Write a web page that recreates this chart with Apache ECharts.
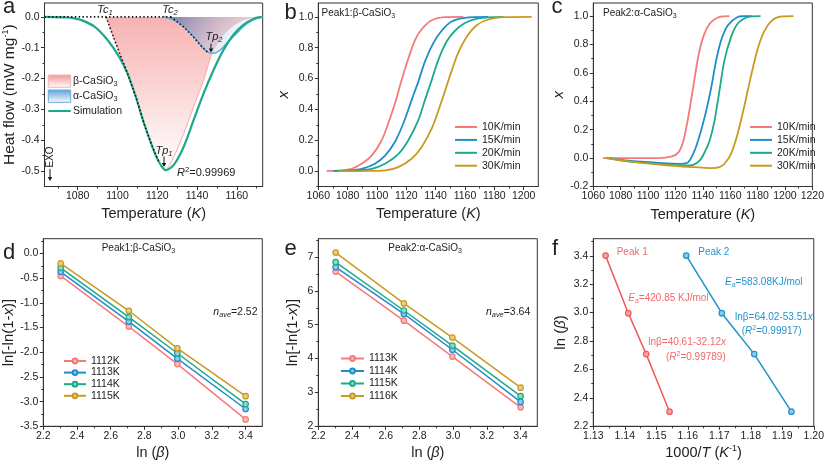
<!DOCTYPE html>
<html><head><meta charset="utf-8">
<script src="https://cdn.jsdelivr.net/npm/echarts@6.0.0/dist/echarts.min.js"></script>
<style>html,body{margin:0;padding:0;background:#fff}#c{width:827px;height:466px}</style>
</head><body><div id="c"></div>
<script>
// ---------------- DATA ----------------
// Panel a : DSC heat flow (T in K, heat flow in mW/mg)
const aSimulation = [[1063.3,0],[1075,-0.002],[1078.3,-0.005],[1081.7,-0.01],[1088.3,-0.031],[1095,-0.075],[1100.8,-0.129],[1105,-0.183],[1109.2,-0.259],[1113.3,-0.345],[1117.5,-0.421],[1120.8,-0.47],[1124.2,-0.497],[1128.3,-0.48],[1133.3,-0.421],[1138.3,-0.334],[1143.3,-0.248],[1148.3,-0.172],[1153.3,-0.107],[1158.3,-0.058],[1163.3,-0.026],[1168.3,-0.0065],[1172.5,0]];
const aBeta = [[1094.2,0],[1101.7,-0.129],[1105,-0.183],[1109.2,-0.259],[1113.3,-0.345],[1117.5,-0.421],[1120.8,-0.47],[1124.2,-0.494],[1128.3,-0.453],[1133.3,-0.378],[1138.3,-0.291],[1143.3,-0.205],[1147.5,-0.118],[1151,-0.075],[1155,-0.045],[1159,-0.024],[1163,-0.01],[1167,-0.003],[1172,0]];
const aAlpha = [[1123.3,0],[1128.3,-0.01],[1133.3,-0.031],[1138.3,-0.064],[1142.5,-0.096],[1145.8,-0.116],[1148.3,-0.118],[1151.7,-0.107],[1155,-0.085],[1159.2,-0.058],[1163.3,-0.031],[1167.5,-0.012],[1171.7,-0.002],[1173,0]];
const aDotBase = [[1063.3,0],[1127,0]];
const aDotTc1 = [[1094.2,0],[1101.7,-0.129],[1105,-0.183],[1109.2,-0.259],[1113.3,-0.345],[1117.5,-0.421],[1120.8,-0.47]];
const aDotTc2 = [[1126.7,0],[1130,-0.016],[1133.3,-0.033],[1138.3,-0.066],[1142.5,-0.098],[1145.8,-0.117]];

// Panel b : Peak1 conversion x vs T
const bNames = ['10K/min','15K/min','20K/min','30K/min'];
const b10 = [[1065.7,0],[1075,0.004],[1082.7,0.015],[1089.5,0.048],[1096.4,0.1],[1103.2,0.2],[1107.7,0.31],[1112.3,0.44],[1116.8,0.59],[1121.4,0.73],[1125.9,0.85],[1130.5,0.92],[1137.3,0.978],[1146.4,0.998],[1158.9,1.0]];
const b15 = [[1070.2,0],[1080,0.004],[1089.5,0.015],[1098.6,0.048],[1105.5,0.1],[1112.3,0.19],[1118,0.31],[1123.6,0.46],[1128.2,0.58],[1132.7,0.71],[1138.4,0.83],[1144.1,0.91],[1150.9,0.97],[1160,0.994],[1175.9,1.0]];
const b20 = [[1071.4,0],[1085,0.004],[1096.4,0.015],[1105.5,0.048],[1114.5,0.11],[1121.4,0.2],[1128.2,0.33],[1132.7,0.46],[1137.3,0.59],[1141.8,0.72],[1147.5,0.84],[1153.2,0.91],[1160,0.96],[1169.1,0.99],[1186.1,1.0]];
const b30 = [[1073.6,0],[1095,0.001],[1105.5,0.004],[1114.5,0.026],[1123.6,0.08],[1130.5,0.156],[1137.3,0.275],[1141.8,0.39],[1146.4,0.52],[1150.9,0.65],[1155.5,0.77],[1161.1,0.87],[1168,0.946],[1175.9,0.983],[1187.3,0.998],[1205.5,1.0]];

// Panel c : Peak2 conversion x vs T
const c10 = [[1067,0],[1107.8,0],[1117.4,0.012],[1122.2,0.04],[1125.8,0.12],[1129.4,0.29],[1133,0.5],[1136.6,0.71],[1140.2,0.85],[1145,0.946],[1151,0.99],[1155,0.998],[1159.4,1.0]];
const c15 = [[1069.4,0],[1083.8,-0.016],[1107.8,-0.033],[1124.6,-0.04],[1129.4,-0.028],[1133,0.03],[1136.6,0.124],[1141.4,0.29],[1146.2,0.5],[1149.8,0.69],[1153.4,0.83],[1158.2,0.934],[1165.4,0.993],[1170,0.999],[1176.2,1.0]];
const c20 = [[1071.8,0],[1083.8,-0.021],[1107.8,-0.04],[1127,-0.052],[1133,-0.047],[1137.8,-0.016],[1141.4,0.042],[1145,0.124],[1148.6,0.265],[1152.2,0.477],[1155.8,0.688],[1160.6,0.852],[1165.4,0.946],[1171.4,0.988],[1176,0.998],[1182.2,1.0]];
const c30 = [[1069.4,0],[1083.8,-0.021],[1107.8,-0.045],[1131.8,-0.063],[1146.2,-0.07],[1152.2,-0.063],[1155.8,-0.04],[1160.6,0.03],[1165.4,0.17],[1170.2,0.36],[1175,0.57],[1179.8,0.76],[1184.6,0.887],[1190.6,0.97],[1197.8,0.998],[1206.2,1.0]];

// Panels d, e : ln[-ln(1-x)] vs ln(beta)
const lnBeta = [2.303, 2.708, 2.996, 3.401];
const dNames = ['1112K','1113K','1114K','1115K'];
const d1112 = [-0.455,-1.48,-2.24,-3.36];
const d1113 = [-0.37,-1.38,-2.13,-3.15];
const d1114 = [-0.29,-1.29,-2.02,-3.05];
const d1115 = [-0.2,-1.16,-1.92,-2.89];
const eNames = ['1113K','1114K','1115K','1116K'];
const e1113 = [6.57,5.12,4.06,2.56];
const e1114 = [6.70,5.32,4.26,2.72];
const e1115 = [6.85,5.42,4.38,2.89];
const e1116 = [7.13,5.63,4.62,3.14];

// Panel f : ln(beta) vs 1000/T
const fPeak1X = [1.1339,1.1411,1.1468,1.1542];
const fPeak2X = [1.1595,1.1708,1.1811,1.1929];
const fLnBeta = [3.401,2.996,2.708,2.303];

// Tick values
const aXTicks = [1080,1100,1120,1140,1160], aXMinor = [1070,1090,1110,1130,1150,1170];
const aYTicks = [0,-0.1,-0.2,-0.3,-0.4,-0.5], aYMinor = [-0.05,-0.15,-0.25,-0.35,-0.45];
const bXTicks = [1060,1080,1100,1120,1140,1160,1180,1200], bXMinor = [1070,1090,1110,1130,1150,1170,1190];
const bYTicks = [0,0.2,0.4,0.6,0.8,1.0], bYMinor = [-0.1,0.1,0.3,0.5,0.7,0.9];
const cXTicks = [1060,1080,1100,1120,1140,1160,1180,1200,1220], cXMinor = [1070,1090,1110,1130,1150,1170,1190,1210];
const cYTicks = [-0.2,0,0.2,0.4,0.6,0.8,1.0], cYMinor = [-0.1,0.1,0.3,0.5,0.7,0.9];
const deXTicks = [2.2,2.4,2.6,2.8,3.0,3.2,3.4], deXMinor = [2.3,2.5,2.7,2.9,3.1,3.3];
const dYTicks = [0,-0.5,-1,-1.5,-2,-2.5,-3,-3.5], dYMinor = [0.25,-0.25,-0.75,-1.25,-1.75,-2.25,-2.75,-3.25];
const eYTicks = [2,3,4,5,6,7], eYMinor = [2.5,3.5,4.5,5.5,6.5,7.5];
const fXTicks = [1.13,1.14,1.15,1.16,1.17,1.18,1.19,1.20], fXMinor = [1.135,1.145,1.155,1.165,1.175,1.185,1.195];
const fYTicks = [2.2,2.4,2.6,2.8,3.0,3.2,3.4], fYMinor = [2.3,2.5,2.7,2.9,3.1,3.3,3.5];

// ---------------- STYLE ----------------
const F = '"Liberation Sans", Arial, Helvetica, sans-serif';
const TXT = '#222', AX = '#333';
const RED = '#F47A7A', BLUE = '#1F8CCB', TEAL = '#1BAA8B', GOLD = '#C99A20';
const LRED = '#FBB8B8', LBLUE = '#92CBEC', LTEAL = '#8FDAC5', LGOLD = '#EACD84';
const NAMEFS = 14.5;

const gridDefs = [
  {left:43.3, top:3, width:219.4, height:183.5},
  {left:318.3, top:3, width:220, height:183.5},
  {left:593.3, top:3, width:223, height:183.5},
  {left:43.3, top:238.7, width:219, height:187.6},
  {left:318.3, top:238.7, width:219, height:187.6},
  {left:593.3, top:238.7, width:223, height:187.6}
].map(g => Object.assign({show:true, borderColor:AX, borderWidth:1, backgroundColor:'rgba(0,0,0,0)'}, g));

const nameRich = {
  i:{fontStyle:'italic', fontSize:NAMEFS, fontFamily:F, color:TXT},
  sup:{fontSize:9, fontFamily:F, color:TXT, padding:[0,0,8,0]}
};
function mainAxis(dim, g, min, max, ticks, dec, name, gap, italicName, nfs) {
  const fs = nfs || NAMEFS;
  return {
    type:'value', gridIndex:g, min:min, max:max, position: dim==='x' ? 'bottom' : 'left',
    axisLine:{show:true, onZero:false, lineStyle:{color:AX, width:1}},
    axisTick:{show:true, inside:false, length:3.5, customValues:ticks, lineStyle:{color:AX, width:1}},
    axisLabel:{show:true, customValues:ticks, formatter:(v)=>Number(v).toFixed(dec), color:TXT, fontSize:10.5, fontFamily:F, margin: dim==='x' ? 4 : 5},
    splitLine:{show:false}, minorTick:{show:false},
    name:name, nameLocation:'middle', nameGap:gap,
    nameTextStyle:{fontSize:fs, fontFamily:F, color:TXT, fontStyle: italicName ? 'italic' : 'normal',
      rich:{i:{fontStyle:'italic', fontSize:fs, fontFamily:F, color:TXT}, sup:nameRich.sup}}
  };
}
function minorAxis(dim, g, min, max, ticks) {
  return {
    type:'value', gridIndex:g, min:min, max:max, position: dim==='x' ? 'bottom' : 'left',
    axisLine:{show:false, onZero:false}, axisLabel:{show:false},
    axisTick:{show:true, inside:false, length:2, customValues:ticks, lineStyle:{color:AX, width:1}},
    splitLine:{show:false}
  };
}
const xMain = [
  mainAxis('x',0,1063.3,1173,aXTicks,0,'Temperature ({i|K})',20),
  mainAxis('x',1,1060,1210,bXTicks,0,'Temperature ({i|K})',20),
  mainAxis('x',2,1060,1220,cXTicks,0,'Temperature ({i|K})',21),
  mainAxis('x',3,2.2,3.5,deXTicks,1,'ln ({i|β})',19),
  mainAxis('x',4,2.2,3.5,deXTicks,1,'ln ({i|β})',19),
  mainAxis('x',5,1.13,1.20,fXTicks,2,'1000/{i|T} ({i|K}{sup|-1})',18)
];
const xMinor = [
  minorAxis('x',0,1063.3,1173,aXMinor), minorAxis('x',1,1060,1210,bXMinor), minorAxis('x',2,1060,1220,cXMinor),
  minorAxis('x',3,2.2,3.5,deXMinor), minorAxis('x',4,2.2,3.5,deXMinor), minorAxis('x',5,1.13,1.20,fXMinor)
];
const yMain = [
  mainAxis('y',0,-0.55,0.045,aYTicks,1,'Heat flow (mW mg{sup|-1})',26,false,15.5),
  mainAxis('y',1,-0.1,1.09,bYTicks,1,'x',27,true,15),
  mainAxis('y',2,-0.2,1.092,cYTicks,1,'x',26,true,15),
  mainAxis('y',3,-3.5,0.3,dYTicks,1,'ln[-ln(1-{i|x})]',25,false,15),
  mainAxis('y',4,2,7.54,eYTicks,0,'ln[-ln(1-{i|x})]',18,false,15),
  mainAxis('y',5,2.2,3.52,fYTicks,1,'ln ({i|β})',25,false,15)
];
const yMinor = [
  minorAxis('y',0,-0.55,0.045,aYMinor), minorAxis('y',1,-0.1,1.09,bYMinor), minorAxis('y',2,-0.2,1.092,cYMinor),
  minorAxis('y',3,-3.5,0.3,dYMinor), minorAxis('y',4,2,7.54,eYMinor), minorAxis('y',5,2.2,3.52,fYMinor)
];

const LG = echarts.graphic.LinearGradient;
const series = [];
function ln(g, name, data, color, width, extra) {
  series.push(Object.assign({
    type:'line', name:name, xAxisIndex:g, yAxisIndex:g, data:data,
    symbol:'none', showSymbol:false, smooth:0.3, silent:true,
    lineStyle:{color:color, width:width}, itemStyle:{color:color}
  }, extra || {}));
}
// panel a
ln(0,'beta',aBeta,'#F6A8A8',1,{z:1, areaStyle:{origin:'auto', color:new LG(0,0,0,1,[{offset:0,color:'#F39090'},{offset:1,color:'#FFFFFF'}])}});
ln(0,'alpha',aAlpha,'#5AAEE0',1.6,{z:2, areaStyle:{origin:'auto', color:new LG(0,0,0.6,1,[{offset:0,color:'rgba(45,85,155,0.88)'},{offset:1,color:'rgba(215,232,248,0.6)'}])}});
[aDotBase,aDotTc1,aDotTc2].forEach(d => ln(0,'dot',d,'#111',1.6,{z:5, smooth:false, lineStyle:{color:'#111', width:1.6, type:[1.4,2.4]}}));
ln(0,'Simulation',aSimulation,'#1EA88A',2.2,{z:4});
// panel b, c
const bcCols = [RED,BLUE,TEAL,GOLD];
[b10,b15,b20,b30].forEach((d,i)=>ln(1,bNames[i],d,bcCols[i],1.8));
[c10,c15,c20,c30].forEach((d,i)=>ln(2,bNames[i]+' ',d,bcCols[i],1.8));
// panel d, e
const lights = [LRED,LBLUE,LTEAL,LGOLD];
function pts(xs, ys){ return xs.map((x,i)=>[x, ys[i]]); }
function mk(g, name, xs, ys, col, lcol){
  series.push({type:'line', name:name, xAxisIndex:g, yAxisIndex:g, data:pts(xs,ys),
    symbol:'circle', symbolSize:5.5, lineStyle:{color:col, width:1.5},
    itemStyle:{color:lcol, borderColor:col, borderWidth:1.2}, silent:true});
}
[d1112,d1113,d1114,d1115].forEach((ys,i)=>mk(3,dNames[i],lnBeta,ys,bcCols[i],lights[i]));
[e1113,e1114,e1115,e1116].forEach((ys,i)=>mk(4,eNames[i]+' ',lnBeta,ys,bcCols[i],lights[i]));
mk(5,'Peak 1',fPeak1X,fLnBeta,'#F05A5A','#F8A5A5');
mk(5,'Peak 2',fPeak2X,fLnBeta,'#1E93C6','#8ECBEA');

function legend(left, top, names, gap, w, h, icon) {
  const o = {show:true, orient:'vertical', left:left, top:top, data:names, itemWidth:w, itemHeight:h, itemGap:gap,
    formatter:(n)=>n.trim(), textStyle:{color:TXT, fontSize:10.5, fontFamily:F}, padding:0, selectedMode:false};
  if (icon) o.icon = icon;
  return o;
}
const legends = [
  legend(455,121.5,bNames,1.9,22,2,'rect'),
  legend(750,121.5,bNames.map(n=>n+' '),1.9,22,2,'rect'),
  legend(63,355.5,dNames,0.6,22,6),
  legend(340,353,eNames.map(n=>n+' '),1.5,23,6)
];

// ---------------- ANNOTATIONS ----------------
const G = [];
function txt(x, y, text, o) {
  o = o || {};
  const fs = o.fs || 10, col = o.color || TXT;
  G.push({type:'text', x:x, y:y, rotation:o.rot || 0, silent:true, z:100,
    style:{text:text, fill:col, fontSize:fs, fontFamily:F, fontStyle:o.italic ? 'italic' : 'normal',
      align:o.align || 'left', verticalAlign:'middle',
      rich:{
        i:{fontStyle:'italic', fontSize:fs, fontFamily:F, fill:col},
        sub:{fontSize:fs*0.7, fontFamily:F, fill:col, fontStyle:o.italic ? 'italic' : 'normal', padding:[fs*0.55,0,0,0]},
        isub:{fontSize:fs*0.7, fontFamily:F, fill:col, fontStyle:'italic', padding:[fs*0.55,0,0,0]},
        sup:{fontSize:fs*0.7, fontFamily:F, fill:col, padding:[0,0,fs*0.55,0]}
      }}});
}
function arrow(x, y1, y2) {
  G.push({type:'line', silent:true, z:100, shape:{x1:x, y1:y1, x2:x, y2:y2-3}, style:{stroke:'#111', lineWidth:1}});
  G.push({type:'polygon', silent:true, z:100, shape:{points:[[x-2.2,y2-4],[x+2.2,y2-4],[x,y2]]}, style:{fill:'#111'}});
}
// panel letters
txt(3,7,'a',{fs:22}); txt(284.5,12.5,'b',{fs:22}); txt(551.5,7,'c',{fs:22});
txt(3,252.5,'d',{fs:22}); txt(284.5,248.5,'e',{fs:22}); txt(552,249,'f',{fs:22});
// panel a
txt(105,10,'Tc{sub|1}',{fs:11, italic:true, align:'center'});
txt(170,10,'Tc{sub|2}',{fs:11, italic:true, align:'center'});
txt(214,36.5,'Tp{sub|2}',{fs:11, italic:true, align:'center'});
arrow(211,43.5,52.5);
txt(164,150.5,'Tp{sub|1}',{fs:11, italic:true, align:'center'});
arrow(164,156.5,167);
txt(177,173,'{i|R}{sup|2}=0.99969',{fs:11});
txt(50,157,'EXO',{fs:10, rot:Math.PI/2, align:'center'});
arrow(50,169,181);
G.push({type:'rect', silent:true, z:100, shape:{x:48.3,y:75,width:22.4,height:12.3},
  style:{fill:new LG(0,0,0,1,[{offset:0,color:'#F29494'},{offset:1,color:'#FFFFFF'}]), stroke:'#F5B5B5', lineWidth:1}});
G.push({type:'rect', silent:true, z:100, shape:{x:48.3,y:90,width:22.4,height:12.3},
  style:{fill:new LG(0,0,0,1,[{offset:0,color:'#5B9FD8'},{offset:1,color:'#FFFFFF'}]), stroke:'#6EAADC', lineWidth:1}});
G.push({type:'line', silent:true, z:100, shape:{x1:48.3,y1:111,x2:70.7,y2:111}, style:{stroke:'#1EA88A', lineWidth:2}});
txt(73,81.5,'β-CaSiO{sub|3}',{fs:10.5});
txt(73,96.5,'α-CaSiO{sub|3}',{fs:10.5});
txt(73,111,'Simulation',{fs:10.5});
// panel b, c
txt(321.5,13.5,'Peak1:β-CaSiO{sub|3}',{fs:10});
txt(603,13.5,'Peak2:α-CaSiO{sub|3}',{fs:10});
// panel d, e
txt(101.7,248,'Peak1:β-CaSiO{sub|3}',{fs:10});
txt(213.3,312,'{i|n}{isub|ave}=2.52',{fs:10.5});
txt(388.3,248,'Peak2:α-CaSiO{sub|3}',{fs:10});
txt(486,312,'{i|n}{isub|ave}=3.64',{fs:10.5});
// panel f
const FR = '#F06A6A', FB = '#2394CB';
txt(616.7,252,'Peak 1',{fs:10, color:FR});
txt(698.3,252,'Peak 2',{fs:10, color:FB});
txt(725,282.7,'{i|E}{sub|a}=583.08KJ/mol',{fs:10, color:FB});
txt(628.3,298.7,'{i|E}{sub|a}=420.85 KJ/mol',{fs:10, color:FR});
txt(735,317,'lnβ=64.02-53.51{i|x}',{fs:10, color:FB});
txt(741.7,331.3,'({i|R}{sup|2}=0.99917)',{fs:10, color:FB});
txt(648.3,342,'lnβ=40.61-32.12{i|x}',{fs:10, color:FR});
txt(666,357,'({i|R}{sup|2}=0.99789)',{fs:10, color:FR});

const chart = echarts.init(document.getElementById('c'), null, {renderer:'canvas'});
chart.setOption({
  animation:false,
  backgroundColor:'#fff',
  grid:gridDefs,
  xAxis:xMain.concat(xMinor),
  yAxis:yMain.concat(yMinor),
  legend:legends,
  series:series,
  graphic:G
});
</script></body></html>
